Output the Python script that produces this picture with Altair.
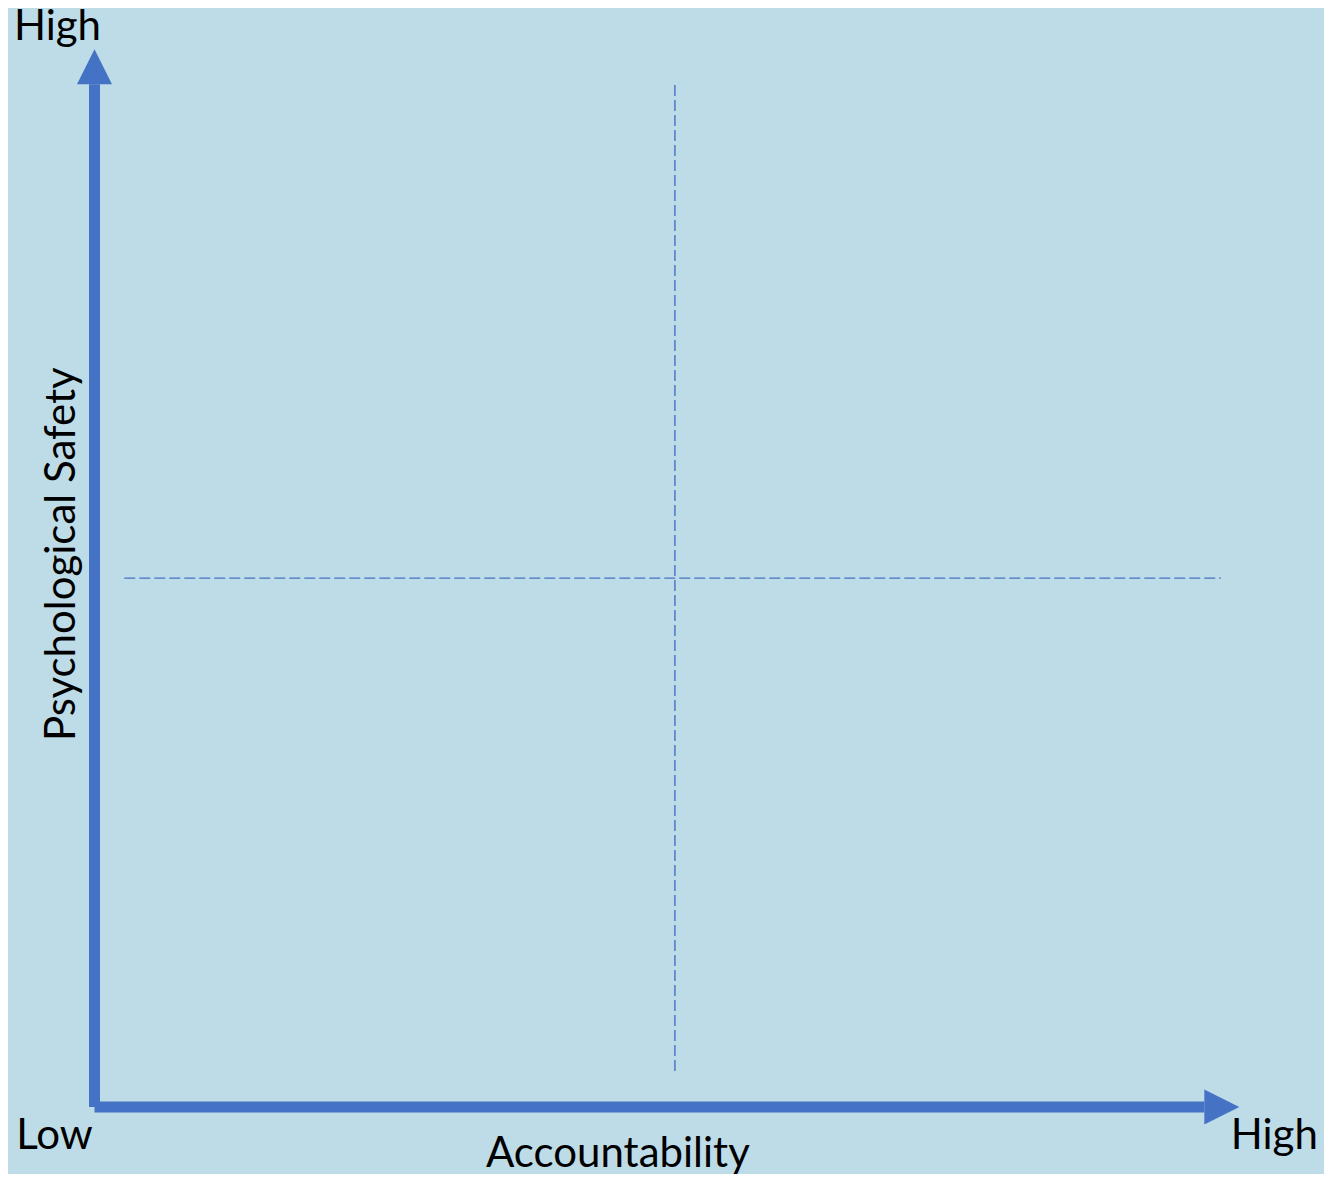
import altair as alt
import pandas as pd

# Conceptual axis scale: 0 = Low, 1 = High
axis_low = 0.0
axis_high = 1.0
axis_mid = 0.5

x_title = "Accountability"
y_title = "Psychological Safety"
low_label = "Low"
high_label = "High"

# Dashed quadrant dividers (in axis units)
v_div_x = [0.507]
v_div_span = [0.034, 0.967]
h_div_y = [0.5]
h_div_span = [0.026, 0.984]

BLUE = "#4472C4"
BG = "#BEDCE7"
FONT = "Lato"
FS = 42

xs = alt.Scale(domain=[axis_low, axis_high], range=[86.5, 1231.3])
ys = alt.Scale(domain=[axis_low, axis_high], range=[1099, 41.3])


def X(f):
    return alt.X(f, type="quantitative", scale=xs, axis=None)


def Y(f):
    return alt.Y(f, type="quantitative", scale=ys, axis=None)


h_div = alt.Chart(pd.DataFrame({"x": [h_div_span[0]], "x2": [h_div_span[1]], "y": h_div_y})).mark_rule(
    color=BLUE, strokeWidth=1.4, strokeDash=[11, 4]
).encode(x=X("x"), x2="x2", y=Y("y"))

v_div = alt.Chart(pd.DataFrame({"x": v_div_x, "y": [v_div_span[0]], "y2": [v_div_span[1]]})).mark_rule(
    color=BLUE, strokeWidth=1.4, strokeDash=[11, 4]
).encode(x=X("x"), y=Y("y"), y2="y2")

y_shaft = alt.Chart(pd.DataFrame({"x": [axis_low], "y": [axis_low], "y2": [axis_high]})).mark_rule(
    color=BLUE, strokeWidth=11, strokeCap="butt", y2Offset=35
).encode(x=X("x"), y=Y("y"), y2="y2")

x_shaft = alt.Chart(pd.DataFrame({"x": [axis_low], "x2": [axis_high], "y": [axis_low]})).mark_rule(
    color=BLUE, strokeWidth=11, strokeCap="butt", x2Offset=-35
).encode(x=X("x"), x2="x2", y=Y("y"))

up_head = alt.Chart(pd.DataFrame({"x": [axis_low], "y": [axis_high]})).mark_point(
    shape="M0,0L1,2L-1,2Z", size=1225, filled=True, color=BLUE, opacity=1, strokeWidth=0
).encode(x=X("x"), y=Y("y"))

right_head = alt.Chart(pd.DataFrame({"x": [axis_high], "y": [axis_low]})).mark_point(
    shape="M0,0L-2,-1L-2,1Z", size=1225, filled=True, color=BLUE, opacity=1, strokeWidth=0
).encode(x=X("x"), y=Y("y"))


def label(x, y, text, **kw):
    return alt.Chart(pd.DataFrame({"x": [x], "y": [y], "t": [text]})).mark_text(
        font=FONT, fontSize=FS, color="black", baseline="alphabetic", **kw
    ).encode(x=X("x"), y=Y("y"), text="t:N")


top_high = label(axis_low, axis_high, high_label, align="center", dx=-37, dy=-9)
low = label(axis_low, axis_low, low_label, align="center", dx=-40, dy=42)
right_high = label(axis_high, axis_low, high_label, align="center", dx=35, dy=42)
xt = label(axis_mid, axis_low, x_title, align="center", dx=-49, dy=60)
yt = label(axis_low, axis_mid, y_title, align="center", angle=270, dx=24, dy=-19.5)

chart = alt.layer(
    h_div, v_div, y_shaft, x_shaft, up_head, right_head, top_high, low, right_high, xt, yt
).properties(
    width=1316, height=1166, background=BG, padding=0,
    autosize=alt.AutoSizeParams(type="none")
).configure_view(stroke=None)

chart.save("out.html", embed_options={"renderer": "svg", "actions": False})
